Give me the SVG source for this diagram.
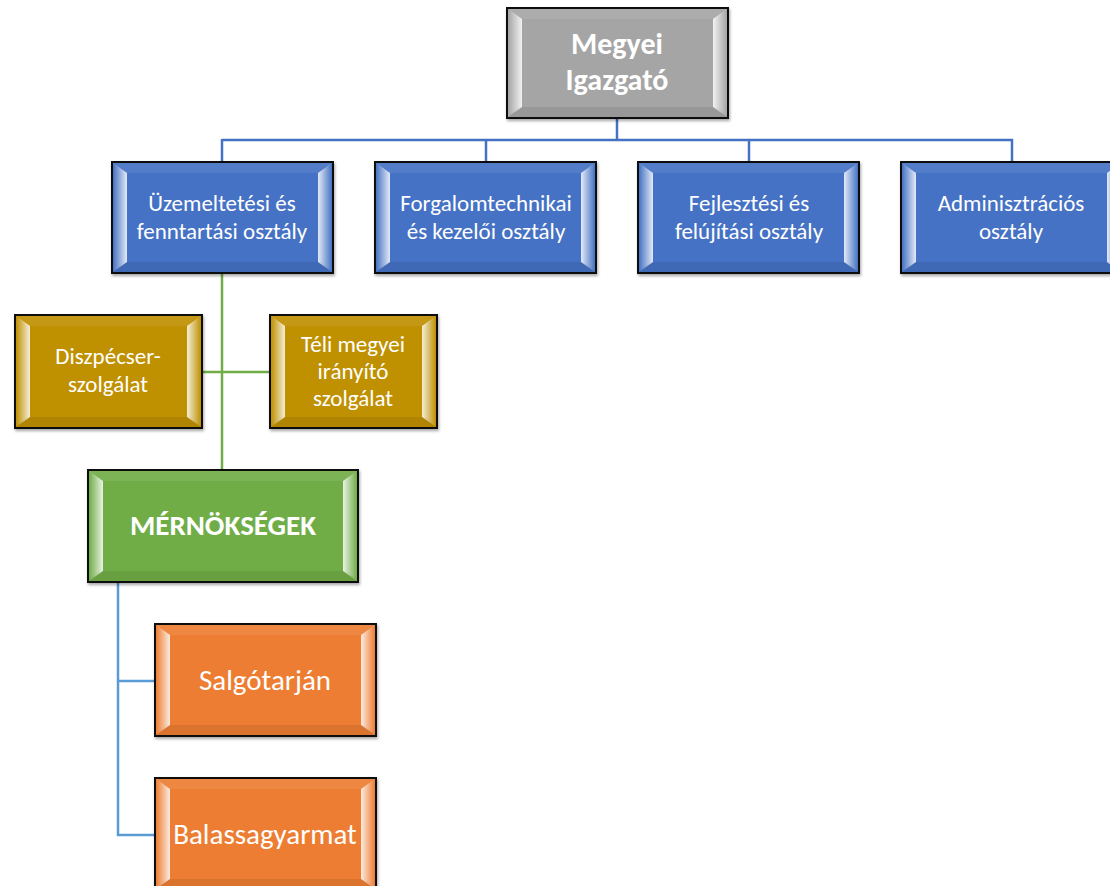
<svg xmlns="http://www.w3.org/2000/svg" width="1110" height="886" viewBox="0 0 1110 886">
<style>
.box{stroke:#0d0d0d;stroke-width:2}
.t{font-family:Carlito,Lato,"Liberation Sans",sans-serif;fill:#fff;text-anchor:middle}
.n{font-size:23px}
.b{font-weight:bold}
.conn line{stroke-width:2.5;fill:none}
.hl{fill:url(#gl)}
.hr{fill:url(#gr)}
.ht{fill:#fff;opacity:0.08}
.hb{fill:#000;opacity:0.08}
</style>
<defs>
<linearGradient id="gl" x1="0" y1="0" x2="1" y2="0">
<stop offset="0" stop-color="#fff" stop-opacity="0"/>
<stop offset="1" stop-color="#fff" stop-opacity="0.85"/>
</linearGradient>
<linearGradient id="gr" x1="1" y1="0" x2="0" y2="0">
<stop offset="0" stop-color="#fff" stop-opacity="0"/>
<stop offset="1" stop-color="#fff" stop-opacity="0.85"/>
</linearGradient>
<filter id="sh" x="-10%" y="-10%" width="120%" height="130%">
<feDropShadow dx="1" dy="2" stdDeviation="1.5" flood-color="#000" flood-opacity="0.35"/>
</filter>
</defs>

<g id="connectors" class="conn">
<g stroke="#4472C4">
<line x1="617" y1="118" x2="617" y2="140"/>
<line x1="222" y1="140" x2="1013" y2="140"/>
<line x1="222" y1="139" x2="222" y2="162"/>
<line x1="486" y1="139" x2="486" y2="162"/>
<line x1="749" y1="139" x2="749" y2="162"/>
<line x1="1012" y1="139" x2="1012" y2="162"/>
</g>
<g stroke="#70AD47">
<line x1="222" y1="273" x2="222" y2="470"/>
<line x1="202" y1="372" x2="270" y2="372"/>
</g>
<g stroke="#5B9BD5">
<line x1="118" y1="582" x2="118" y2="836"/>
<line x1="117" y1="681" x2="155" y2="681"/>
<line x1="117" y1="835" x2="155" y2="835"/>
</g>
</g>

<g id="n-igazgato">
<rect class="box" x="507" y="8" width="221" height="110" fill="#A5A5A5" filter="url(#sh)"/>
<polygon class="ht" points="508,9 727,9 717,19 518,19"/>
<polygon class="hb" points="508,117 727,117 717,107 518,107"/>
<polygon class="hl" points="508,9 522,19 522,107 508,117"/>
<polygon class="hr" points="727,9 713,19 713,107 727,117"/>
<text class="t b" x="617" y="54" font-size="30">Megyei</text>
<text class="t b" x="617" y="90" font-size="30">Igazgató</text>
</g>

<g id="n-uzem">
<rect class="box" x="112" y="162" width="221" height="111" fill="#4472C4" filter="url(#sh)"/>
<polygon class="ht" points="113,163 332,163 322,173 123,173"/>
<polygon class="hb" points="113,272 332,272 322,262 123,262"/>
<polygon class="hl" points="113,163 127,173 127,262 113,272"/>
<polygon class="hr" points="332,163 318,173 318,262 332,272"/>
<text class="t n" x="222" y="211">Üzemeltetési és</text>
<text class="t n" x="222" y="239">fenntartási osztály</text>
</g>

<g id="n-forg">
<rect class="box" x="375" y="162" width="221" height="111" fill="#4472C4" filter="url(#sh)"/>
<polygon class="ht" points="376,163 595,163 585,173 386,173"/>
<polygon class="hb" points="376,272 595,272 585,262 386,262"/>
<polygon class="hl" points="376,163 390,173 390,262 376,272"/>
<polygon class="hr" points="595,163 581,173 581,262 595,272"/>
<text class="t n" x="486" y="211">Forgalomtechnikai</text>
<text class="t n" x="486" y="239">és kezelői osztály</text>
</g>

<g id="n-fejl">
<rect class="box" x="638" y="162" width="221" height="111" fill="#4472C4" filter="url(#sh)"/>
<polygon class="ht" points="639,163 858,163 848,173 649,173"/>
<polygon class="hb" points="639,272 858,272 848,262 649,262"/>
<polygon class="hl" points="639,163 653,173 653,262 639,272"/>
<polygon class="hr" points="858,163 844,173 844,262 858,272"/>
<text class="t n" x="749" y="211">Fejlesztési és</text>
<text class="t n" x="749" y="239">felújítási osztály</text>
</g>

<g id="n-admin">
<rect class="box" x="901" y="162" width="221" height="111" fill="#4472C4" filter="url(#sh)"/>
<polygon class="ht" points="902,163 1121,163 1111,173 912,173"/>
<polygon class="hb" points="902,272 1121,272 1111,262 912,262"/>
<polygon class="hl" points="902,163 916,173 916,262 902,272"/>
<polygon class="hr" points="1121,163 1107,173 1107,262 1121,272"/>
<text class="t n" x="1011" y="211">Adminisztrációs</text>
<text class="t n" x="1011" y="239">osztály</text>
</g>

<g id="n-diszp">
<rect class="box" x="15" y="315" width="187" height="113" fill="#BF9000" filter="url(#sh)"/>
<polygon class="ht" points="16,316 201,316 191,326 26,326"/>
<polygon class="hb" points="16,427 201,427 191,417 26,417"/>
<polygon class="hl" points="16,316 30,326 30,417 16,427"/>
<polygon class="hr" points="201,316 187,326 187,417 201,427"/>
<text class="t n" x="108" y="364">Diszpécser-</text>
<text class="t n" x="108" y="392">szolgálat</text>
</g>

<g id="n-teli">
<rect class="box" x="270" y="315" width="167" height="113" fill="#BF9000" filter="url(#sh)"/>
<polygon class="ht" points="271,316 436,316 426,326 281,326"/>
<polygon class="hb" points="271,427 436,427 426,417 281,417"/>
<polygon class="hl" points="271,316 285,326 285,417 271,427"/>
<polygon class="hr" points="436,316 422,326 422,417 436,427"/>
<text class="t n" x="353" y="352">Téli megyei</text>
<text class="t n" x="353" y="379">irányító</text>
<text class="t n" x="353" y="406">szolgálat</text>
</g>

<g id="n-mernok">
<rect class="box" x="88" y="470" width="270" height="112" fill="#70AD47" filter="url(#sh)"/>
<polygon class="ht" points="89,471 357,471 347,481 99,481"/>
<polygon class="hb" points="89,581 357,581 347,571 99,571"/>
<polygon class="hl" points="89,471 103,481 103,571 89,581"/>
<polygon class="hr" points="357,471 343,481 343,571 357,581"/>
<text class="t b" x="223" y="535" font-size="29">MÉRNÖKSÉGEK</text>
</g>

<g id="n-salgo">
<rect class="box" x="155" y="624" width="221" height="112" fill="#ED7D31" filter="url(#sh)"/>
<polygon class="ht" points="156,625 375,625 365,635 166,635"/>
<polygon class="hb" points="156,735 375,735 365,725 166,725"/>
<polygon class="hl" points="156,625 170,635 170,725 156,735"/>
<polygon class="hr" points="375,625 361,635 361,725 375,735"/>
<text class="t" x="265" y="690" font-size="29">Salgótarján</text>
</g>

<g id="n-balassa">
<rect class="box" x="155" y="778" width="221" height="112" fill="#ED7D31" filter="url(#sh)"/>
<polygon class="ht" points="156,779 375,779 365,789 166,789"/>
<polygon class="hb" points="156,889 375,889 365,879 166,879"/>
<polygon class="hl" points="156,779 170,789 170,879 156,889"/>
<polygon class="hr" points="375,779 361,789 361,879 375,889"/>
<text class="t" x="265" y="844" font-size="29">Balassagyarmat</text>
</g>
</svg>
